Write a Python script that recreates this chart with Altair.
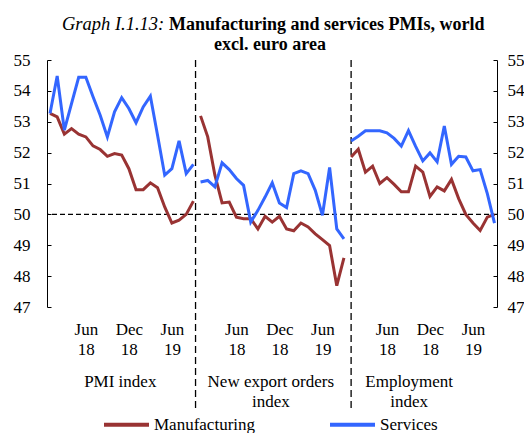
import altair as alt
import pandas as pd

# ---------------- data ----------------
series_names = ["Manufacturing", "Services"]
panel_names = ["PMI index", "New export orders\nindex", "Employment\nindex"]
tick_labels = ["Jun 18", "Dec 18", "Jun 19"]
tick_month_idx = [5, 11, 17]          # month index inside a panel (Jan 2018 = 0)
months_per_panel = 21                 # Jan 2018 .. Sep 2019

pmi_manufacturing = [53.27, 53.16, 52.60, 52.78, 52.60, 52.51, 52.22, 52.10, 51.88, 51.97,
                     51.92, 51.48, 50.80, 50.80, 51.02, 50.86, 50.24, 49.72, 49.81, 50.00, 50.43]
pmi_services = [53.27, 54.48, 52.73, 53.59, 54.44, 54.44, 53.81, 53.21, 52.51, 53.32,
                53.78, 53.43, 52.97, 53.48, 53.83, 52.56, 51.27, 51.48, 52.38, 51.32, 51.62]

export_manufacturing = [53.19, 52.51, 51.27, 50.37, 50.40, 49.91, 49.86, 49.86, 49.53, 49.94,
                        49.75, 49.94, 49.53, 49.47, 49.72, 49.59, 49.37, 49.18, 48.99, 47.69, 48.59]
export_services = [51.05, 51.10, 50.89, 51.67, 51.45, 51.16, 50.94, 49.75, 50.13, 50.56,
                   51.02, 50.37, 50.22, 51.32, 51.41, 51.32, 50.78, 49.97, 51.52, 49.53, 49.21]

employment_manufacturing = [51.86, 52.11, 51.37, 51.56, 51.00, 51.19, 50.97, 50.73, 50.73, 51.56,
                            51.37, 50.58, 50.89, 50.76, 51.13, 50.51, 50.00, 49.72, 49.48, 49.91, 50.00]
employment_services = [52.38, 52.53, 52.71, 52.71, 52.71, 52.64, 52.46, 52.21, 52.71, 52.20,
                       51.73, 51.99, 51.70, 52.86, 51.62, 51.88, 51.86, 51.41, 51.45, 50.67, 49.72]

panels = [
    (pmi_manufacturing, pmi_services),
    (export_manufacturing, export_services),
    (employment_manufacturing, employment_services),
]
divider_positions = [20.3, 42.0]
panel_label_x = [9.8, 30.8, 50.1]
reference_level = [50]

rows = []
for p, (mfg, srv) in enumerate(panels):
    for name, vals in zip(series_names, (mfg, srv)):
        for i, v in enumerate(vals):
            rows.append({"idx": p * months_per_panel + i, "value": v,
                         "series": name, "panel": p})
df = pd.DataFrame(rows)

tick_values = [p * months_per_panel + m for p in range(3) for m in tick_month_idx]
label_expr = "split("
for m, lab in zip(tick_month_idx[:-1], tick_labels[:-1]):
    label_expr += f"datum.value % {months_per_panel} == {m} ? '{lab}' : "
label_expr += f"'{tick_labels[-1]}', ' ')"

FONT = "Liberation Serif"
RED = "#993333"
BLUE = "#3366FF"

x_scale = alt.Scale(domain=[-0.42, 62.35], nice=False, zero=False)
y_scale = alt.Scale(domain=[47, 55], nice=False, zero=False)

x_axis = alt.Axis(values=tick_values, labelExpr=label_expr, domain=False,
                  ticks=False, grid=False, title=None, labelFont=FONT,
                  labelFontSize=17, labelColor="black", labelPadding=14,
                  labelLineHeight=20, labelOverlap=False)

lines = alt.Chart(df).mark_line(strokeWidth=3).encode(
    x=alt.X("idx:Q", scale=x_scale, axis=x_axis),
    y=alt.Y("value:Q", scale=y_scale,
            axis=alt.Axis(orient="right", offset=-450, values=list(range(47, 56)),
                          tickSize=4, labelAlign="right", labelPadding=-21,
                          domainColor="black", tickColor="black", grid=False,
                          title=None, labelFont=FONT, labelFontSize=17,
                          labelColor="black", labelOverlap=False)),
    color=alt.Color("series:N",
                    scale=alt.Scale(domain=series_names, range=[RED, BLUE]),
                    legend=alt.Legend(orient="none", legendX=55, legendY=340,
                                      direction="horizontal", title=None,
                                      symbolType="stroke", symbolSize=2025,
                                      symbolStrokeWidth=4, labelFont=FONT,
                                      labelFontSize=17, labelColor="black",
                                      labelOffset=3, columnPadding=66, padding=0)),
    detail="panel:N",
)

hline = alt.Chart(pd.DataFrame({"ref": reference_level})).mark_rule(
    color="black", strokeDash=[5, 3], strokeWidth=1.3
).encode(
    y=alt.Y("ref:Q", scale=y_scale,
            axis=alt.Axis(orient="left", offset=-450, values=list(range(47, 56)),
                          tickSize=4, labelAlign="left", labelPadding=-14,
                          domainColor="black", tickColor="black", grid=False,
                          title=None, labelFont=FONT, labelFontSize=17,
                          labelColor="black", labelOverlap=False)),
)

dividers = alt.Chart(pd.DataFrame({"idx": divider_positions})).mark_rule(
    color="black", strokeDash=[7, 4], strokeWidth=1.3
).encode(
    x=alt.X("idx:Q", scale=x_scale, axis=x_axis),
    y=alt.value(0),
    y2=alt.value(348),
)

panel_text = alt.Chart(pd.DataFrame({"idx": panel_label_x, "name": panel_names})).mark_text(
    font=FONT, fontSize=17, color="black", align="center", baseline="alphabetic",
    lineBreak="\n", lineHeight=20
).encode(
    x=alt.X("idx:Q", scale=x_scale, axis=x_axis),
    y=alt.value(327),
    text="name:N",
)

title_df = pd.DataFrame({"k": [0]})
title_italic = alt.Chart(title_df).mark_text(
    font=FONT, fontSize=18.5, fontStyle="italic", color="black", align="left",
    baseline="alphabetic"
).encode(x=alt.value(15), y=alt.value(-30), text=alt.value("Graph I.1.13:"))
title_bold1 = alt.Chart(title_df).mark_text(
    font=FONT, fontSize=18, fontWeight="bold", color="black", align="left",
    baseline="alphabetic"
).encode(x=alt.value(122), y=alt.value(-30),
         text=alt.value("Manufacturing and services PMIs, world"))
title_bold2 = alt.Chart(title_df).mark_text(
    font=FONT, fontSize=18, fontWeight="bold", color="black", align="center",
    baseline="alphabetic"
).encode(x=alt.value(223), y=alt.value(-10), text=alt.value("excl. euro area"))

chart = alt.layer(
    dividers, hline, lines, panel_text, title_italic, title_bold1, title_bold2
).resolve_scale(y="independent").properties(
    width=450, height=247,
    autosize=alt.AutoSizeParams(type="none"),
    padding={"left": 39, "right": 27, "top": 52, "bottom": 126},
).configure(font=FONT).configure_view(stroke=None).configure_axis(labelFont=FONT)

chart.save("out.html", embed_options={"renderer": "svg", "actions": False})
